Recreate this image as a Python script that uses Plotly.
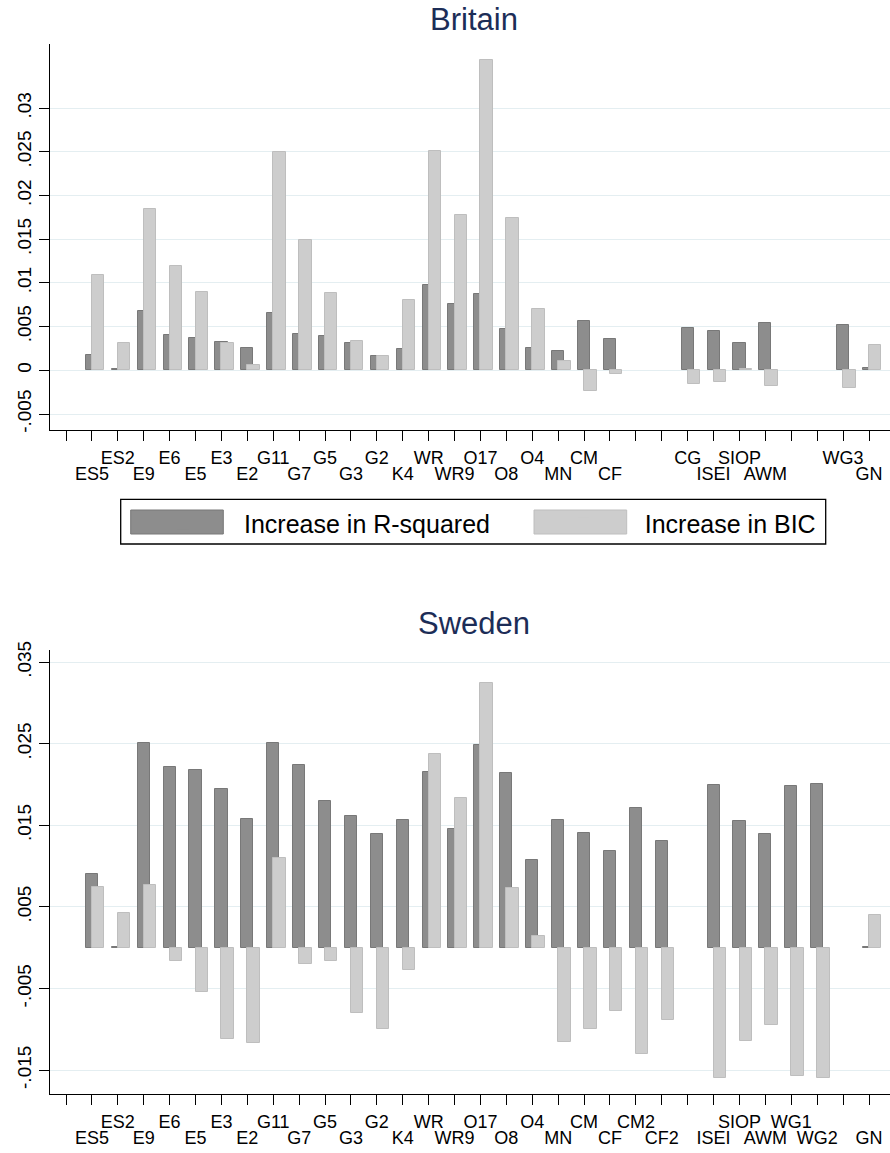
import plotly.graph_objects as go

# ---------------- data ----------------
categories = ["", "ES5", "ES2", "E9", "E6", "E5", "E3", "E2", "G11", "G7", "G5",
              "G3", "G2", "K4", "WR", "WR9", "O17", "O8", "O4", "MN", "CM", "CF",
              "CM2", "CF2", "CG", "ISEI", "SIOP", "AWM", "WG1", "WG2", "WG3", "GN"]

britain_rsq = [None, 0.0018, 0.0001, 0.0068, 0.0040, 0.0037, 0.0032, 0.0026, 0.0066, 0.0041, 0.0039,
               0.0031, 0.0016, 0.0024, 0.0098, 0.0076, 0.0087, 0.0047, 0.0025, 0.0022, 0.0056, 0.0036,
               None, None, 0.0048, 0.0045, 0.0031, 0.0054, None, None, 0.0052, 0.0003]
britain_bic = [None, 0.0109, 0.0031, 0.0185, 0.0119, 0.0090, 0.0031, 0.0006, 0.0250, 0.0149, 0.0088,
               0.0033, 0.0016, 0.0081, 0.0251, 0.0178, 0.0355, 0.0174, 0.0070, 0.0011, -0.0024, -0.0004,
               None, None, -0.0016, -0.0013, 0.0002, -0.0018, None, None, -0.0020, 0.0029]

sweden_rsq = [None, 0.0091, 0.0001, 0.0251, 0.0221, 0.0218, 0.0194, 0.0158, 0.0251, 0.0224, 0.0180,
              0.0162, 0.0140, 0.0156, 0.0216, 0.0145, 0.0249, 0.0214, 0.0108, 0.0156, 0.0141, 0.0118,
              0.0171, 0.0131, None, 0.0200, 0.0155, 0.0140, 0.0198, 0.0201, None, 0.0001]
sweden_bic = [None, 0.0074, 0.0042, 0.0077, -0.0016, -0.0054, -0.0112, -0.0117, 0.0110, -0.0020, -0.0016,
              -0.0080, -0.0100, -0.0027, 0.0237, 0.0184, 0.0325, 0.0073, 0.0015, -0.0115, -0.0100, -0.0077,
              -0.0130, -0.0089, None, -0.0160, -0.0114, -0.0095, -0.0157, -0.0160, None, 0.0040]

britain_yticks = [-0.005, 0, 0.005, 0.01, 0.015, 0.02, 0.025, 0.03]
britain_yticktext = ["-.005", "0", ".005", ".01", ".015", ".02", ".025", ".03"]
sweden_yticks = [-0.015, -0.005, 0.005, 0.015, 0.025, 0.035]
sweden_yticktext = ["-.015", "-.005", ".005", ".015", ".025", ".035"]

series_names = ["Increase in R-squared", "Increase in BIC"]
panel_titles = ["Britain", "Sweden"]

# ---------------- styling ----------------
FONT = "Liberation Sans, Arial, Helvetica, sans-serif"
DARK = "#8d8d8d"
DARK_LINE = "#787878"
LIGHT = "#cdcdcd"
LIGHT_LINE = "#bebebe"
GRID = "#e4eef1"
TITLE_COLOR = "#1c2d57"
W, H = 890, 1153

positions = list(range(len(categories)))


def px_y(py):
    return 1 - py / H


def px_x(px):
    return px / W


def row_labels(values_a, values_b, parity):
    vals, texts = [], []
    for i, cat in enumerate(categories):
        has = values_a[i] is not None or values_b[i] is not None
        if i % 2 == parity and has and cat:
            vals.append(positions[i])
            texts.append(cat)
    return vals, texts


fig = go.Figure()

panels = [
    (britain_rsq, britain_bic, "x", "y", "x3"),
    (sweden_rsq, sweden_bic, "x2", "y2", "x4"),
]
for rsq, bic, xa, ya, xlab in panels:
    fig.add_trace(go.Bar(
        x=positions, y=rsq, name=series_names[0], xaxis=xa, yaxis=ya,
        width=0.47, offset=-0.235,
        marker=dict(color=DARK, line=dict(color=DARK_LINE, width=1)),
        showlegend=False, legendgroup="r2",
    ))
    fig.add_trace(go.Bar(
        x=positions, y=bic, name=series_names[1], xaxis=xa, yaxis=ya,
        width=0.48, offset=0.0,
        marker=dict(color=LIGHT, line=dict(color=LIGHT_LINE, width=1)),
        showlegend=False, legendgroup="bic",
    ))
    # empty trace so the second (label-row) x axis is rendered
    fig.add_trace(go.Scatter(
        x=positions, y=[None] * len(positions), xaxis=xlab, yaxis=ya,
        mode="markers", showlegend=False, hoverinfo="skip",
    ))

# legend entries (icons blend into the wide key swatches drawn below them)
NBSP = "\u00a0"
for name, col, grp, pad in [(series_names[0], DARK, "r2", 4), (series_names[1], LIGHT, "bic", 0)]:
    fig.add_trace(go.Bar(
        x=[None], y=[None], name=name + NBSP * pad, xaxis="x", yaxis="y",
        marker=dict(color=col, line=dict(color=col, width=0)),
        showlegend=True, legendgroup=grp,
    ))

x_domain = [px_x(50), 1.0]
x_range = [-0.618, 31.81]
TICKFONT = dict(family=FONT, size=18, color="#000000")

top_axis = dict(
    domain=x_domain, range=x_range, tickmode="array",
    ticks="outside", ticklen=10, tickwidth=1.2, tickcolor="#000000",
    showline=True, linecolor="#000000", linewidth=1.3, showgrid=False,
    zeroline=False, tickangle=0, tickfont=TICKFONT, ticklabelstandoff=1,
)
bottom_axis = dict(
    domain=x_domain, range=x_range, tickmode="array",
    ticks="", showline=False, showgrid=False, zeroline=False, tickangle=0,
    tickfont=TICKFONT, ticklabelstandoff=31,
)
common_y = dict(
    tickmode="array", tickangle=-90, ticks="outside", ticklen=10,
    tickwidth=1.2, tickcolor="#000000", showline=True, linecolor="#000000",
    linewidth=1.3, showgrid=True, gridcolor=GRID, gridwidth=1.3, zeroline=False,
    tickfont=dict(family=FONT, size=19, color="#000000"), ticklabelstandoff=0,
)

b_top_v, b_top_t = row_labels(britain_rsq, britain_bic, 0)
b_bot_v, b_bot_t = row_labels(britain_rsq, britain_bic, 1)
s_top_v, s_top_t = row_labels(sweden_rsq, sweden_bic, 0)
s_bot_v, s_bot_t = row_labels(sweden_rsq, sweden_bic, 1)

# legend box and key swatches (paper coordinates)
LEG_L, LEG_R, LEG_T, LEG_B = 120.7, 825.7, 499.3, 544.0
shapes = [
    dict(type="rect", xref="paper", yref="paper", layer="above",
         x0=px_x(LEG_L), x1=px_x(LEG_R), y0=px_y(LEG_B), y1=px_y(LEG_T),
         line=dict(color="#000000", width=1.3), fillcolor="rgba(0,0,0,0)"),
    dict(type="rect", xref="paper", yref="paper", layer="above",
         x0=px_x(130.7), x1=px_x(223.3), y0=px_y(534), y1=px_y(510),
         line=dict(color=DARK_LINE, width=1), fillcolor=DARK),
    dict(type="rect", xref="paper", yref="paper", layer="above",
         x0=px_x(534), x1=px_x(626.7), y0=px_y(534), y1=px_y(510),
         line=dict(color=LIGHT_LINE, width=1), fillcolor=LIGHT),
]

fig.update_layout(
    width=W, height=H,
    margin=dict(l=0, r=0, t=0, b=0, autoexpand=False),
    paper_bgcolor="#ffffff", plot_bgcolor="#ffffff",
    barmode="overlay", bargap=0,
    font=dict(family=FONT, color="#000000"),
    xaxis=dict(top_axis, anchor="y", tickvals=positions,
               ticktext=[b_top_t[b_top_v.index(p)] if p in b_top_v else "" for p in positions]),
    xaxis3=dict(bottom_axis, anchor="y", overlaying="x", side="bottom",
                tickvals=b_bot_v, ticktext=b_bot_t),
    yaxis=dict(common_y, anchor="x",
               domain=[px_y(430), px_y(44)],
               range=[-0.00683, 0.03734],
               tickvals=britain_yticks, ticktext=britain_yticktext),
    xaxis2=dict(top_axis, anchor="y2", tickvals=positions,
                ticktext=[s_top_t[s_top_v.index(p)] if p in s_top_v else "" for p in positions]),
    xaxis4=dict(bottom_axis, anchor="y2", overlaying="x2", side="bottom",
                tickvals=s_bot_v, ticktext=s_bot_t),
    yaxis2=dict(common_y, anchor="x2",
                domain=[px_y(1094), px_y(650)],
                range=[-0.01792, 0.03649],
                tickvals=sweden_yticks, ticktext=sweden_yticktext),
    legend=dict(
        orientation="h", x=px_x(LEG_L), xanchor="left",
        y=px_y(LEG_T), yanchor="top",
        bordercolor="rgba(0,0,0,0)", borderwidth=1.3, bgcolor="rgba(0,0,0,0)",
        font=dict(family=FONT, size=25, color="#000000"),
        itemwidth=112, traceorder="normal", itemclick="toggle",
    ),
    shapes=shapes,
    annotations=[
        dict(text=panel_titles[0], x=px_x(474), y=px_y(20), xref="paper", yref="paper",
             xanchor="center", yanchor="middle", showarrow=False,
             font=dict(family=FONT, size=31, color=TITLE_COLOR)),
        dict(text=panel_titles[1], x=px_x(474), y=px_y(623), xref="paper", yref="paper",
             xanchor="center", yanchor="middle", showarrow=False,
             font=dict(family=FONT, size=31, color=TITLE_COLOR)),
    ],
)

fig.write_html(
    "out.html",
    config={"displayModeBar": False},
    post_script="document.body.style.margin='0px';document.body.style.overflow='hidden';",
)
